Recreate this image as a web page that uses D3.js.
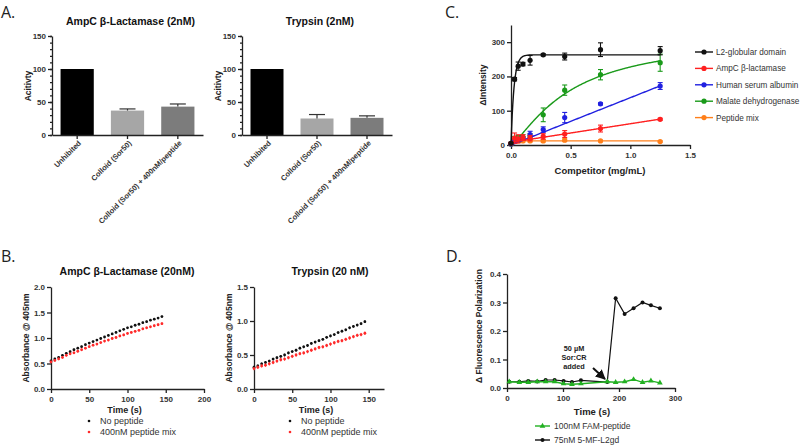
<!DOCTYPE html>
<html>
<head>
<meta charset="utf-8">
<script src="https://cdn.jsdelivr.net/npm/d3@7"></script>
<style>
body { margin: 0; background: #fff; }
svg { font-family: "Liberation Sans", Arial, sans-serif; }
.axis path, .axis line { stroke: #222; stroke-width: 1.3; }
.axis text { font-weight: bold; font-size: 8px; fill: #333; }
.title { font-weight: bold; font-size: 10.5px; fill: #111; text-anchor: middle; }
.alabel { font-weight: bold; font-size: 8.5px; fill: #222; text-anchor: middle; }
.panel { font-family: "Open Sans", sans-serif; font-size: 16px; fill: #222; }
.legend { font-size: 9px; fill: #333; }
</style>
</head>
<body>
<svg id="fig" width="800" height="446"></svg>
<script>
// ---- A: activity bars
var barCats = ["Unhibited", "Colloid (Sor50)", "Colloid (Sor50) + 400nM/peptide"];
var barColors = ["#000000", "#a6a6a6", "#7c7c7c"];
var ampcActivity = [100, 37, 43];
var ampcErr = [0, 2.5, 4];
var trypsinActivity = [100, 25, 26];
var trypsinErr = [0, 6, 3];

// ---- B: kinetics
var kinTimes = [0,5,10,15,20,25,30,35,40,45,50,55,60,65,70,75,80,85,90,95,100,105,110,115,120,125,130,135,140,145];
var ampcNoPep = [0.55,0.59,0.62,0.66,0.70,0.73,0.77,0.80,0.83,0.87,0.90,0.93,0.96,0.99,1.02,1.05,1.08,1.11,1.14,1.17,1.20,1.22,1.25,1.27,1.30,1.32,1.35,1.37,1.39,1.42];
var ampcPep = [0.53,0.56,0.59,0.62,0.66,0.69,0.71,0.74,0.77,0.80,0.83,0.86,0.88,0.91,0.94,0.96,0.99,1.01,1.04,1.06,1.09,1.11,1.13,1.15,1.18,1.20,1.22,1.24,1.26,1.28];
var trypNoPep = [0.32,0.34,0.37,0.39,0.41,0.44,0.46,0.48,0.50,0.53,0.55,0.57,0.60,0.62,0.64,0.67,0.69,0.71,0.73,0.76,0.78,0.80,0.83,0.85,0.87,0.90,0.92,0.94,0.96,0.99];
var trypPep = [0.30,0.32,0.34,0.35,0.37,0.39,0.41,0.43,0.44,0.46,0.48,0.50,0.52,0.53,0.55,0.57,0.59,0.61,0.62,0.64,0.66,0.68,0.70,0.71,0.73,0.75,0.77,0.79,0.80,0.82];
var kinLegend = ["No peptide", "400nM peptide mix"];

// ---- C: competition
var competitorConc = [0, 0.03, 0.06, 0.1, 0.16, 0.27, 0.45, 0.75, 1.25];
var compNames = ["L2-globular domain", "AmpC \u03b2-lactamase", "Human serum albumin", "Malate dehydrogenase", "Peptide mix"];
var compColors = ["#111111", "#ff2020", "#2020e0", "#1a9a1a", "#ff7f1a"];
var l2Int = [5, 192, 230, 236, 247, 263, 258, 278, 275];
var l2Err = [3, 5, 12, 5, 14, 3, 10, 20, 12];
var ampcInt = [5, 20, 18, 22, 20, 25, 32, 48, 75];
var ampcIntErr = [2, 15, 12, 8, 8, 8, 10, 10, 3];
var hsaInt = [3, 10, 15, 20, 30, 45, 80, 120, 172];
var hsaErr = [2, 5, 5, 5, 10, 8, 15, 3, 10];
var mdhInt = [3, 15, 18, 22, 25, 88, 160, 205, 240];
var mdhErr = [2, 10, 10, 8, 8, 20, 15, 15, 25];
var pepInt = [3, 10, 12, 12, 12, 12, 14, 12, 10];
var pepErr = [1, 4, 4, 3, 3, 3, 4, 2, 2];
// fitted curves: [type, a, b, c]
var compFits = [["exp", 263, 0.025], ["lin", 8, 54], ["lin", 0, 138], ["hill", 320, 0.5, 1.3], ["lin", 12, 0]];

// ---- D: polarization
var fpTimes = [4, 22, 38, 54, 69, 85, 101, 116, 132, 179, 194, 210, 226, 242, 257, 273];
var fpPeptide = [0.022, 0.020, 0.020, 0.022, 0.022, 0.022, 0.015, 0.013, 0.015, 0.022, 0.020, 0.022, 0.030, 0.020, 0.025, 0.018];
var fpL2gd = [0.022, 0.022, 0.025, 0.023, 0.028, 0.028, 0.025, 0.021, 0.027, 0.021, 0.315, 0.260, 0.280, 0.300, 0.290, 0.280];
var fpLegend = ["100nM FAM-peptide", "75nM 5-MF-L2gd"];

var svg = d3.select("#fig");

function panelLetter(txt, x, y) {
    svg.append("text").attr("class", "panel").attr("x", x).attr("y", y).text(txt);
}

function yLabel(txt, x, cy) {
    svg.append("text").attr("class", "alabel")
        .attr("transform", "translate(" + x + "," + cy + ") rotate(-90)")
        .text(txt);
}

function barPanel(x0, x1, title, vals, errs) {
    var y = d3.scaleLinear().domain([0, 150]).range([135, 36]);
    var x = d3.scaleBand().domain(barCats).range([x0, x1]).paddingInner(0.34).paddingOuter(0.17);

    // minor ticks
    svg.append("g").attr("class", "axis")
        .attr("transform", "translate(" + x0 + ",0)")
        .call(d3.axisLeft(y).tickValues(d3.range(0, 151, 10)).tickSize(2).tickFormat(""))
        .select(".domain").remove();
    svg.append("g").attr("class", "axis")
        .attr("transform", "translate(" + x0 + ",0)")
        .call(d3.axisLeft(y).tickValues([0, 50, 100, 150]).tickSize(4).tickSizeOuter(0).tickPadding(2));

    var g = svg.append("g");
    g.selectAll("rect").data(vals).enter().append("rect")
        .attr("x", function(d, i) { return x(barCats[i]); })
        .attr("width", x.bandwidth())
        .attr("y", function(d) { return y(d); })
        .attr("height", function(d) { return y(0) - y(d); })
        .attr("fill", function(d, i) { return barColors[i]; });
    // up-only error bars
    vals.forEach(function(v, i) {
        if (!errs[i]) return;
        var cx = x(barCats[i]) + x.bandwidth() / 2;
        g.append("line").attr("x1", cx).attr("x2", cx).attr("y1", y(v)).attr("y2", y(v + errs[i]))
            .attr("stroke", "#333").attr("stroke-width", 1.2);
        g.append("line").attr("x1", cx - 8).attr("x2", cx + 8).attr("y1", y(v + errs[i])).attr("y2", y(v + errs[i]))
            .attr("stroke", "#333").attr("stroke-width", 1.2);
    });

    var xa = svg.append("g").attr("class", "axis")
        .attr("transform", "translate(0," + y(0) + ")")
        .call(d3.axisBottom(x).tickSize(4).tickSizeOuter(0));
    xa.selectAll("text")
        .attr("text-anchor", "end")
        .attr("transform", "rotate(-45)")
        .attr("dx", "-0.4em").attr("dy", "0.3em")
        .style("font-size", "7.5px");

    svg.append("text").attr("class", "title").attr("x", (x0 + x1) / 2 + 3).attr("y", 25).text(title);
    yLabel("Acitivty", x0 - 21, 86);
}

function kineticPanel(x0, xmax, xr1, ymax, yTicks, title, black, red, cx, legX) {
    var x = d3.scaleLinear().domain([0, xmax]).range([x0, xr1]);
    var y = d3.scaleLinear().domain([0, ymax]).range([389, 287]);

    svg.append("g").attr("class", "axis")
        .attr("transform", "translate(" + x0 + ",0)")
        .call(d3.axisLeft(y).tickValues(yTicks).tickSize(4).tickSizeOuter(0).tickPadding(2).tickFormat(d3.format(".1f")));
    svg.append("g").attr("class", "axis")
        .attr("transform", "translate(0,389)")
        .call(d3.axisBottom(x).tickValues(d3.range(0, xmax + 1, 50)).tickSize(4).tickSizeOuter(0));

    [[black, "#111", 0.02], [red, "#ff2a2a", 0.025]].forEach(function(s) {
        var g = svg.append("g");
        g.selectAll("line").data(s[0]).enter().append("line")
            .attr("x1", function(d, i) { return x(kinTimes[i]); })
            .attr("x2", function(d, i) { return x(kinTimes[i]); })
            .attr("y1", function(d) { return y(d - s[2]); })
            .attr("y2", function(d) { return y(d + s[2]); })
            .attr("stroke", s[1]).attr("stroke-width", 0.8);
        g.selectAll("circle").data(s[0]).enter().append("circle")
            .attr("cx", function(d, i) { return x(kinTimes[i]); })
            .attr("cy", function(d) { return y(d); })
            .attr("r", 1.4).attr("fill", s[1]);
    });

    svg.append("text").attr("class", "title").attr("x", cx).attr("y", 275).text(title);
    svg.append("text").attr("class", "alabel").attr("x", (x0 + xr1) / 2 - 3).attr("y", 413).style("font-size", "9px").text("Time (s)");
    yLabel("Absorbance @ 405nm", x0 - 22, 338);

    var lg = svg.append("g");
    kinLegend.forEach(function(name, i) {
        lg.append("circle").attr("cx", legX).attr("cy", 421 + i * 11).attr("r", 1.3)
            .attr("fill", i ? "#ff2a2a" : "#111");
        lg.append("text").attr("class", "legend").attr("x", legX + 11).attr("y", 424 + i * 11).text(name);
    });
}

function fitValue(f, v) {
    if (f[0] == "exp") return f[1] * (1 - Math.exp(-v / f[2]));
    if (f[0] == "hill") return f[1] * Math.pow(v, f[3]) / (Math.pow(f[2], f[3]) + Math.pow(v, f[3]));
    return f[1] + f[2] * v;
}

function competitionPanel() {
    var x = d3.scaleLinear().domain([0, 1.5]).range([511, 690]);
    var y = d3.scaleLinear().domain([0, 350]).range([145, 25]);

    svg.append("g").attr("class", "axis")
        .attr("transform", "translate(511,0)")
        .call(d3.axisLeft(y).tickValues([0, 100, 200, 300]).tickSize(4).tickSizeOuter(0).tickPadding(2));
    svg.append("g").attr("class", "axis")
        .attr("transform", "translate(0,145)")
        .call(d3.axisBottom(x).tickValues([0, 0.5, 1, 1.5]).tickSize(4).tickSizeOuter(0).tickFormat(d3.format(".1f")));

    var series = [[l2Int, l2Err], [ampcInt, ampcIntErr], [hsaInt, hsaErr], [mdhInt, mdhErr], [pepInt, pepErr]];
    var fitX = d3.range(0, 1.2501, 0.005);
    var line = d3.line().x(function(d) { return x(d[0]); }).y(function(d) { return y(Math.max(0, d[1])); });

    // draw in reverse so black ends on top
    for (var k = series.length - 1; k >= 0; k--) {
        var col = compColors[k];
        var g = svg.append("g");
        var f = compFits[k];
        g.append("path")
            .attr("d", line(fitX.map(function(v) { return [v, fitValue(f, v)]; })))
            .attr("fill", "none").attr("stroke", col).attr("stroke-width", 1.4);
        var vals = series[k][0], errs = series[k][1];
        vals.forEach(function(v, i) {
            var px = x(competitorConc[i]);
            g.append("line").attr("x1", px).attr("x2", px).attr("y1", y(v - errs[i])).attr("y2", y(v + errs[i]))
                .attr("stroke", col).attr("stroke-width", 1.1);
            [v - errs[i], v + errs[i]].forEach(function(e) {
                g.append("line").attr("x1", px - 2.5).attr("x2", px + 2.5).attr("y1", y(e)).attr("y2", y(e))
                    .attr("stroke", col).attr("stroke-width", 1.1);
            });
        });
        g.selectAll("circle").data(vals).enter().append("circle")
            .attr("cx", function(d, i) { return x(competitorConc[i]); })
            .attr("cy", function(d) { return y(d); })
            .attr("r", 2.6).attr("fill", col);
    }

    svg.append("text").attr("class", "alabel").attr("x", 600).attr("y", 174).style("font-size", "9.5px").text("Competitor (mg/mL)");
    yLabel("\u0394Intensity", 486, 85);

    compNames.forEach(function(name, i) {
        var ly = 52 + i * 16.4;
        svg.append("line").attr("x1", 695).attr("x2", 713).attr("y1", ly).attr("y2", ly)
            .attr("stroke", compColors[i]).attr("stroke-width", 1.4);
        svg.append("circle").attr("cx", 704).attr("cy", ly).attr("r", 2.6).attr("fill", compColors[i]);
        svg.append("text").attr("class", "legend").attr("x", 716).attr("y", ly + 3)
            .style("font-size", "8.2px").text(name);
    });
}

function polarizationPanel() {
    var x = d3.scaleLinear().domain([0, 300]).range([507, 675]);
    var y = d3.scaleLinear().domain([0, 0.4]).range([388, 274]);

    svg.append("g").attr("class", "axis")
        .attr("transform", "translate(507,0)")
        .call(d3.axisLeft(y).tickValues([0, 0.1, 0.2, 0.3, 0.4]).tickSize(4).tickSizeOuter(0).tickPadding(2).tickFormat(d3.format(".1f")));
    svg.append("g").attr("class", "axis")
        .attr("transform", "translate(0,388)")
        .call(d3.axisBottom(x).tickValues([0, 100, 200, 300]).tickSize(4).tickSizeOuter(0));

    var line = d3.line().x(function(d) { return x(d[0]); }).y(function(d) { return y(d[1]); });
    var green = "#22b022";
    var tri = d3.symbol().type(d3.symbolTriangle).size(14);

    var bk = svg.append("g");
    bk.append("path").attr("d", line(fpTimes.map(function(t, i) { return [t, fpL2gd[i]]; })))
        .attr("fill", "none").attr("stroke", "#111").attr("stroke-width", 1.2);
    bk.selectAll("circle").data(fpL2gd).enter().append("circle")
        .attr("cx", function(d, i) { return x(fpTimes[i]); })
        .attr("cy", function(d) { return y(d); })
        .attr("r", 2).attr("fill", "#111");

    var gr = svg.append("g");
    gr.append("path").attr("d", line(fpTimes.map(function(t, i) { return [t, fpPeptide[i]]; })))
        .attr("fill", "none").attr("stroke", green).attr("stroke-width", 1.4);
    gr.selectAll(".tri").data(fpPeptide).enter().append("path")
        .attr("d", tri)
        .attr("transform", function(d, i) { return "translate(" + x(fpTimes[i]) + "," + y(d) + ")"; })
        .attr("fill", green);

    // annotation, one text per line
    ["50 \u00b5M", "Sor:CR", "added"].forEach(function(t, i) {
        svg.append("text").attr("text-anchor", "middle")
            .attr("x", 574).attr("y", 351 + i * 9)
            .style("font-weight", "bold").style("font-size", "7.3px").attr("fill", "#222")
            .text(t);
    });
    svg.append("defs").append("marker").attr("id", "arr").attr("viewBox", "0 0 10 10")
        .attr("refX", 9).attr("refY", 5).attr("markerWidth", 5).attr("markerHeight", 5).attr("orient", "auto")
        .append("path").attr("d", "M0,0 L10,5 L0,10 Z").attr("fill", "#111");
    svg.append("line").attr("x1", 593).attr("y1", 368).attr("x2", 605).attr("y2", 379)
        .attr("stroke", "#111").attr("stroke-width", 2).attr("marker-end", "url(#arr)");

    svg.append("text").attr("class", "alabel").attr("x", 592).attr("y", 415).style("font-size", "9.5px").text("Time (s)");
    yLabel("\u0394 Fluorescence Polarization", 482, 326);

    // legend
    svg.append("line").attr("x1", 535).attr("x2", 550).attr("y1", 426).attr("y2", 426).attr("stroke", green).attr("stroke-width", 1.4);
    svg.append("path").attr("d", tri).attr("transform", "translate(542.5,426)").attr("fill", green);
    svg.append("text").attr("class", "legend").attr("x", 554).attr("y", 429).style("font-size", "8.5px").text(fpLegend[0]);
    svg.append("line").attr("x1", 535).attr("x2", 550).attr("y1", 440).attr("y2", 440).attr("stroke", "#111").attr("stroke-width", 1.4);
    svg.append("circle").attr("cx", 542.5).attr("cy", 440).attr("r", 2).attr("fill", "#111");
    svg.append("text").attr("class", "legend").attr("x", 554).attr("y", 443).style("font-size", "8.5px").text(fpLegend[1]);
}

panelLetter("A.", 1, 18);
panelLetter("B.", 1, 262);
panelLetter("C.", 445, 18);
panelLetter("D.", 446, 262);

barPanel(52, 203, "AmpC \u03b2-Lactamase (2nM)", ampcActivity, ampcErr);
barPanel(242, 392, "Trypsin (2nM)", trypsinActivity, trypsinErr);
kineticPanel(51, 200, 204, 2, [0, 0.5, 1, 1.5, 2], "AmpC \u03b2-Lactamase (20nM)", ampcNoPep, ampcPep, 127, 89);
kineticPanel(254, 170, 384, 1.5, [0, 0.5, 1, 1.5], "Trypsin (20 nM)", trypNoPep, trypPep, 330, 290);
competitionPanel();
polarizationPanel();
</script>
</body>
</html>
